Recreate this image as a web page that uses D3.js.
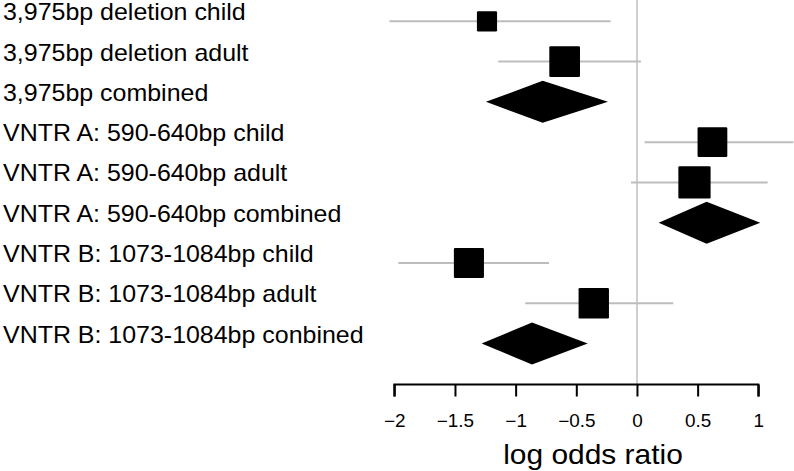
<!DOCTYPE html>
<html>
<head>
<meta charset="utf-8">
<script src="https://cdn.jsdelivr.net/npm/d3@7"></script>
<style>
  html, body { margin: 0; padding: 0; background: #fff; }
  svg { display: block; font-family: "Liberation Sans", Arial, Helvetica, sans-serif; }
</style>
</head>
<body>
<svg id="chart" width="794" height="471"></svg>
<script>
// ---- data ----
const labels = [
  "3,975bp deletion child",
  "3,975bp deletion adult",
  "3,975bp combined",
  "VNTR A: 590-640bp child",
  "VNTR A: 590-640bp adult",
  "VNTR A: 590-640bp combined",
  "VNTR B: 1073-1084bp child",
  "VNTR B: 1073-1084bp adult",
  "VNTR B: 1073-1084bp conbined"
];
const rowType = ["study", "study", "summary", "study", "study", "summary", "study", "study", "summary"];
const estimates = [-1.236, -0.596, -0.777, 0.622, 0.474, 0.574, -1.385, -0.356, -0.865];
const lower = [-2.04, -1.143, -1.245, 0.063, -0.049, 0.179, -1.967, -0.921, -1.280];
const upper = [-0.217, 0.033, -0.239, 1.29, 1.077, 1.016, -0.725, 0.299, -0.406];
const weights = [0.65, 0.99, null, 0.96, 1.04, null, 0.97, 0.98, null];
const xTicks = [-2, -1.5, -1, -0.5, 0, 0.5, 1];
const xTitle = "log odds ratio";

// ---- layout ----
const svg = d3.select("#chart");
const x = d3.scaleLinear().domain([-2, 1]).range([394.3, 758.3]);
const y = d3.scaleLinear().domain([0, labels.length - 1]).range([21.3, 343.5]);
const box = d3.scaleLinear().domain([0, 1]).range([0, 31]);
const diamondHalfH = 21;
const axisY = 384.5;

const rows = labels.map((l, i) => ({
  label: l, type: rowType[i], est: estimates[i], lo: lower[i], hi: upper[i], w: weights[i], i
}));

// zero reference line
svg.append("line")
  .attr("x1", x(0)).attr("x2", x(0))
  .attr("y1", 0).attr("y2", axisY)
  .attr("stroke", "#cfcfcf").attr("stroke-width", 2);

// CI lines for studies
const studies = rows.filter(d => d.type === "study");
svg.append("g").selectAll("line").data(studies).join("line")
  .attr("x1", d => x(d.lo)).attr("x2", d => x(d.hi))
  .attr("y1", d => y(d.i)).attr("y2", d => y(d.i))
  .attr("stroke", "#bdbdbd").attr("stroke-width", 2);

// squares
svg.append("g").selectAll("rect").data(studies).join("rect")
  .attr("x", d => x(d.est) - box(d.w) / 2)
  .attr("y", d => y(d.i) - box(d.w) / 2)
  .attr("width", d => box(d.w)).attr("height", d => box(d.w))
  .attr("rx", 1.2)
  .attr("fill", "#000");

// diamonds for summaries
const summaries = rows.filter(d => d.type === "summary");
svg.append("g").selectAll("path").data(summaries).join("path")
  .attr("d", d => {
    const cy = y(d.i);
    return `M${x(d.lo)},${cy}L${x(d.est)},${cy - diamondHalfH}L${x(d.hi)},${cy}L${x(d.est)},${cy + diamondHalfH}Z`;
  })
  .attr("fill", "#000");

// row labels
svg.append("g").selectAll("text").data(rows).join("text")
  .attr("transform", d => `translate(3,${y(d.i) - 1}) scale(1.04,1)`)
  .attr("font-size", 24)
  .attr("fill", "#000")
  .text(d => d.label);

// x axis
const axis = d3.axisBottom(x).tickValues(xTicks).tickSize(12)
  .tickFormat(d => d3.format("")(d).replace("-", "\u2212"));
const gAxis = svg.append("g").attr("transform", `translate(0,${axisY})`).call(axis);
gAxis.select(".domain").attr("stroke", "#000").attr("stroke-width", 2)
  .attr("d", `M${x(-2)},12V0H${x(1)}V12`);
gAxis.selectAll(".tick line").attr("stroke", "#000").attr("stroke-width", 2);
gAxis.selectAll(".tick text")
  .attr("font-size", 17.5)
  .attr("font-family", "'Liberation Sans', Arial, sans-serif")
  .attr("fill", "#000")
  .attr("y", 0).attr("dy", 0)
  .attr("transform", "translate(0,42) scale(1.08,1)");

// x title
svg.append("text")
  .attr("transform", `translate(593,463.5) scale(1.05,1)`)
  .attr("text-anchor", "middle")
  .attr("font-size", 28.5)
  .attr("fill", "#000")
  .text(xTitle);
</script>
</body>
</html>
